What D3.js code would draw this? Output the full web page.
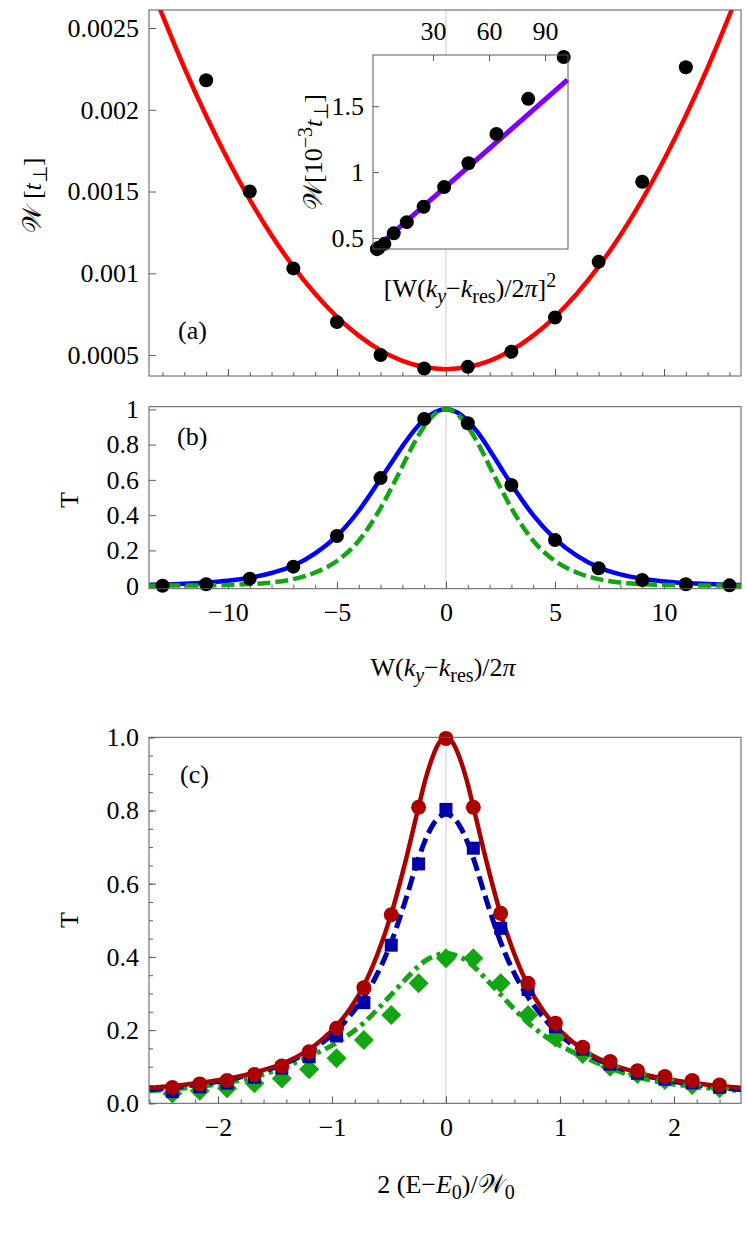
<!DOCTYPE html>
<html><head><meta charset="utf-8">
<script src="https://cdn.jsdelivr.net/npm/d3@7"></script>
<style>
body{margin:0;background:#fff}
text{font-family:"Liberation Serif","Times New Roman",serif;fill:#000}
</style></head><body>
<svg id="c" width="747" height="1233"></svg>
<script>
// ---------- Panel (a): width W vs W(ky-kres)/2pi ----------
const aX = [-11,-9,-7,-5,-3,-1,1,3,5,7,9,11];
const aW = [0.00218,0.0015,0.00103,0.000702,0.0005,0.000418,0.000428,0.00052,0.00073,0.00107,0.00156,0.00226];
const aFitX = [-14,-13,-12,-11,-10,-9,-8,-7,-6,-5,-4,-3,-2,-1,0,1,2,3,4,5,6,7,8,9,10,11,12,13,14];
const aFitW = [0.002923,0.002577,0.002257,0.001963,0.001694,0.001451,0.001233,0.001041,0.000875,0.000734,0.000619,0.000529,0.000465,0.000427,0.000414,0.000427,0.000465,0.000529,0.000619,0.000734,0.000875,0.001041,0.001233,0.001451,0.001694,0.001963,0.002257,0.002577,0.002923];
const aYTicks = [0.0005,0.001,0.0015,0.002,0.0025];
const aYTickLabels = ["0.0005","0.001","0.0015","0.002","0.0025"];

// inset
const inX = [0,1,4,9,16,25,36,49,64,81,100];
const inW = [0.415,0.425,0.455,0.535,0.62,0.737,0.886,1.067,1.289,1.556,1.874];
const inFitX = [0,102];
const inFitW = [0.43,1.70];
const inXTicks = [30,60,90];
const inYTicks = [0.5,1,1.5];
const inYTickLabels = ["0.5","1","1.5"];

// ---------- Panel (b): T vs W(ky-kres)/2pi ----------
const bX = [-13,-11,-9,-7,-5,-3,-1,1,3,5,7,9,11,13];
const bT = [0.0,0.008,0.04,0.108,0.282,0.61,0.945,0.921,0.571,0.259,0.099,0.032,0.008,0.002];
const bBlueX = [-13.6,-13,-12,-11,-10,-9,-8,-7,-6,-5,-4,-3,-2.5,-2,-1.5,-1,-0.5,0,0.5,1,1.5,2,2.5,3,4,5,6,7,8,9,10,11,12,13,13.6];
const bBlueT = [0.006,0.007,0.011,0.018,0.028,0.045,0.072,0.113,0.183,0.282,0.425,0.605,0.697,0.79,0.874,0.942,0.985,1.0,0.984,0.935,0.862,0.77,0.672,0.575,0.4,0.265,0.17,0.104,0.064,0.039,0.024,0.015,0.009,0.005,0.004];
const bGreenX = [-13.6,-13,-12,-11,-10,-9,-8,-7,-6,-5,-4,-3,-2.5,-2,-1.5,-1,-0.5,0,0.5,1,1.5,2,2.5,3,4,5,6,7,8,9,10,11,12,13,13.6];
const bGreenT = [0.0003,0.0005,0.001,0.002,0.004,0.009,0.018,0.037,0.075,0.14,0.255,0.44,0.555,0.677,0.8,0.903,0.975,1.0,0.975,0.903,0.8,0.677,0.555,0.44,0.255,0.14,0.075,0.037,0.018,0.009,0.004,0.002,0.001,0.0005,0.0003];
const abXMinor = [-13,-12,-11,-10,-9,-8,-7,-6,-5,-4,-3,-2,-1,0,1,2,3,4,5,6,7,8,9,10,11,12,13];
const abXMajor = [-10,-5,0,5,10];
const bYTicks = [0,0.2,0.4,0.6,0.8,1];
const bYTickLabels = ["0","0.2","0.4","0.6","0.8","1"];

// ---------- Panel (c): T vs 2(E-E0)/W0 ----------
const cX = [-2.4,-2.16,-1.92,-1.68,-1.44,-1.2,-0.96,-0.72,-0.48,-0.24,0,0.24,0.48,0.72,0.96,1.2,1.44,1.68,1.92,2.16,2.4];
const cRed = [0.043,0.053,0.062,0.079,0.102,0.141,0.205,0.316,0.515,0.809,0.997,0.809,0.519,0.328,0.219,0.153,0.114,0.089,0.073,0.062,0.05];
const cBlue = [0.032,0.045,0.055,0.071,0.096,0.127,0.184,0.275,0.432,0.654,0.803,0.697,0.478,0.311,0.209,0.148,0.107,0.082,0.066,0.056,0.044];
const cGreen = [0.027,0.034,0.041,0.055,0.068,0.093,0.123,0.173,0.241,0.328,0.396,0.396,0.328,0.241,0.18,0.135,0.1,0.08,0.064,0.05,0.041];
const cFitX = [-2.6,-2.4,-2.16,-1.92,-1.68,-1.44,-1.2,-1.08,-0.96,-0.84,-0.72,-0.6,-0.48,-0.36,-0.24,-0.18,-0.12,-0.06,0,0.06,0.12,0.18,0.24,0.36,0.48,0.6,0.72,0.84,0.96,1.08,1.2,1.44,1.68,1.92,2.16,2.4,2.6];
const cFitRed = [0.042,0.047,0.056,0.067,0.084,0.108,0.147,0.176,0.212,0.259,0.322,0.408,0.517,0.655,0.81,0.885,0.944,0.985,1,0.985,0.944,0.885,0.81,0.655,0.517,0.408,0.322,0.259,0.212,0.176,0.147,0.108,0.084,0.067,0.056,0.047,0.042];
const cFitBlue = [0.037,0.043,0.052,0.064,0.081,0.105,0.142,0.167,0.198,0.24,0.29,0.355,0.44,0.55,0.67,0.72,0.758,0.782,0.79,0.782,0.758,0.72,0.67,0.55,0.44,0.355,0.29,0.24,0.198,0.167,0.142,0.105,0.081,0.064,0.052,0.043,0.037];
const cFitGreen = [0.034,0.039,0.046,0.056,0.072,0.096,0.128,0.145,0.165,0.19,0.22,0.257,0.297,0.337,0.375,0.39,0.4,0.407,0.41,0.407,0.4,0.39,0.375,0.337,0.297,0.257,0.22,0.19,0.165,0.145,0.128,0.096,0.072,0.056,0.046,0.039,0.034];
const cXMinor = [-2.6,-2.4,-2.2,-2,-1.8,-1.6,-1.4,-1.2,-1,-0.8,-0.6,-0.4,-0.2,0,0.2,0.4,0.6,0.8,1,1.2,1.4,1.6,1.8,2,2.2,2.4];
const cXMajor = [-2,-1,0,1,2];
const cXTickLabels = ["−2","−1","0","1","2"];
const cYMinor = [0,0.05,0.1,0.15,0.2,0.25,0.3,0.35,0.4,0.45,0.5,0.55,0.6,0.65,0.7,0.75,0.8,0.85,0.9,0.95,1];
const cYMajor = [0,0.2,0.4,0.6,0.8,1];
const cYTickLabels = ["0.0","0.2","0.4","0.6","0.8","1.0"];

// ================= drawing =================
const svg = d3.select("#c");
const FS = 26;
const FRAME = "#5a5a5a";
const GRID = "#cccccc";
const SERIF = '"Liberation Serif","Times New Roman",serif';

function rich(sel, parts){
  let off = 0;
  parts.forEach(p=>{
    const ts = sel.append("tspan").text(p.t);
    let target = 0;
    if(p.sub) target = 6;
    if(p.sup) target = -10;
    if(target!==off){ ts.attr("dy", target-off); off = target; }
    if(p.sub||p.sup) ts.attr("font-size", 20);
    if(p.i) ts.attr("font-style","italic");
  });
}

function panel(x, y, clipId){
  const [x0,x1] = x.range(); const [y1,y0] = y.range();
  svg.append("clipPath").attr("id",clipId).append("rect")
    .attr("x",x0).attr("y",y0).attr("width",x1-x0).attr("height",y1-y0);
  return {x0,x1,y0,y1};
}

function styleAxis(g){
  g.attr("font-family",SERIF).attr("font-size",FS);
  g.select(".domain").remove();
  g.selectAll(".tick line").attr("stroke",FRAME);
  g.selectAll("text").attr("font-size",FS).attr("fill","#000").attr("font-family",SERIF);
}

function drawFrame(f){
  svg.append("rect").attr("x",f.x0).attr("y",f.y0).attr("width",f.x1-f.x0).attr("height",f.y1-f.y0)
    .attr("fill","none").attr("stroke",FRAME).attr("stroke-width",1);
}

function line(x,y,xs,ys,curve){
  return d3.line().x(d=>x(d[0])).y(d=>y(d[1])).curve(curve||d3.curveMonotoneX)(xs.map((v,i)=>[v,ys[i]]));
}

// ----- Panel (a)
const xa = d3.scaleLinear().domain([-13.62,13.53]).range([149,741]);
const ya = d3.scaleLinear().domain([0.000372,0.00261]).range([376,10]);
const fa = panel(xa, ya, "clipA");
svg.append("line").attr("x1",xa(0)).attr("x2",xa(0)).attr("y1",fa.y0).attr("y2",fa.y1).attr("stroke",GRID);
svg.append("g").attr("transform",`translate(0,${fa.y1})`)
  .call(d3.axisBottom(xa).tickValues(abXMinor).tickSize(-4).tickFormat("")).call(styleAxis);
svg.append("g").attr("transform",`translate(0,${fa.y1})`)
  .call(d3.axisBottom(xa).tickValues(abXMajor).tickSize(-7).tickFormat("")).call(styleAxis);
svg.append("g").attr("transform",`translate(${fa.x0},0)`)
  .call(d3.axisLeft(ya).tickValues(aYTicks).tickSize(-7).tickPadding(10).tickFormat((d,i)=>aYTickLabels[i])).call(styleAxis);
svg.append("path").attr("d",line(xa,ya,aFitX,aFitW)).attr("clip-path","url(#clipA)")
  .attr("fill","none").attr("stroke","#ff0000").attr("stroke-width",4.5);
svg.append("g").selectAll("circle").data(aX).join("circle")
  .attr("cx",d=>xa(d)).attr("cy",(d,i)=>ya(aW[i])).attr("r",7).attr("fill","#000");
drawFrame(fa);
svg.append("text").attr("x",178).attr("y",339).attr("font-size",FS).text("(a)");
{
  const t = svg.append("text").attr("transform","translate(41,195) rotate(-90)").attr("text-anchor","middle").attr("font-size",FS);
  rich(t,[{t:"𝒲 ["},{t:"t",i:true},{t:"⊥",sub:true},{t:"]"}]);
}

// ----- Inset
const xi = d3.scaleLinear().domain([-2.1,102.3]).range([373,568]);
const yi = d3.scaleLinear().domain([0.416,1.889]).range([249,55]);
const fi = panel(xi, yi, "clipI");
svg.append("rect").attr("x",fi.x0).attr("y",fi.y0).attr("width",fi.x1-fi.x0).attr("height",fi.y1-fi.y0).attr("fill","#fff");
svg.append("g").attr("transform",`translate(0,${fi.y0})`)
  .call(d3.axisTop(xi).tickValues(inXTicks).tickSize(-6).tickPadding(15).tickFormat(d3.format("d"))).call(styleAxis);
svg.append("g").attr("transform",`translate(${fi.x0},0)`)
  .call(d3.axisLeft(yi).tickValues(inYTicks).tickSize(-6).tickPadding(9).tickFormat((d,i)=>inYTickLabels[i])).call(styleAxis);
svg.append("path").attr("d",line(xi,yi,inFitX,inFitW,d3.curveLinear))
  .attr("fill","none").attr("stroke","#7f00ff").attr("stroke-width",5);
svg.append("g").selectAll("circle").data(inX).join("circle")
  .attr("cx",d=>xi(d)).attr("cy",(d,i)=>yi(inW[i])).attr("r",7).attr("fill","#000");
drawFrame(fi);
{
  const t = svg.append("text").attr("transform","translate(322,152) rotate(-90)").attr("text-anchor","middle").attr("font-size",FS);
  rich(t,[{t:"𝒲[10"},{t:"−3",sup:true},{t:"t",i:true},{t:"⊥",sub:true},{t:"]"}]);
  const u = svg.append("text").attr("x",470).attr("y",297).attr("text-anchor","middle").attr("font-size",FS);
  rich(u,[{t:"[W("},{t:"k",i:true},{t:"y",i:true,sub:true},{t:"−"},{t:"k",i:true},{t:"res",sub:true},{t:")/2"},{t:"π",i:true},{t:"]"},{t:"2",sup:true}]);
}

// ----- Panel (b)
const xb = d3.scaleLinear().domain([-13.62,13.53]).range([149,741]);
const yb = d3.scaleLinear().domain([-0.017,1.015]).range([588.7,406.7]);
const fb = panel(xb, yb, "clipB");
svg.append("line").attr("x1",xb(0)).attr("x2",xb(0)).attr("y1",fb.y0).attr("y2",fb.y1).attr("stroke",GRID);
svg.append("g").attr("transform",`translate(0,${fb.y1})`)
  .call(d3.axisBottom(xb).tickValues(abXMinor).tickSize(-4).tickFormat("")).call(styleAxis);
svg.append("g").attr("transform",`translate(0,${fb.y1})`)
  .call(d3.axisBottom(xb).tickValues(abXMajor).tickSize(-7).tickPadding(14).tickFormat(d3.format("d"))).call(styleAxis);
svg.append("g").attr("transform",`translate(${fb.x0},0)`)
  .call(d3.axisLeft(yb).tickValues(bYTicks).tickSize(-7).tickPadding(10).tickFormat((d,i)=>bYTickLabels[i])).call(styleAxis);
svg.append("path").attr("d",line(xb,yb,bBlueX,bBlueT)).attr("clip-path","url(#clipB)")
  .attr("fill","none").attr("stroke","#0000ff").attr("stroke-width",4.5);
svg.append("path").attr("d",line(xb,yb,bGreenX,bGreenT)).attr("clip-path","url(#clipB)")
  .attr("fill","none").attr("stroke","#12a612").attr("stroke-width",4.5).attr("stroke-dasharray","13,5");
svg.append("g").selectAll("circle").data(bX).join("circle")
  .attr("cx",d=>xb(d)).attr("cy",(d,i)=>yb(bT[i])).attr("r",7).attr("fill","#000");
drawFrame(fb);
svg.append("text").attr("x",177).attr("y",445).attr("font-size",FS).text("(b)");
svg.append("text").attr("transform","translate(78,500) rotate(-90)").attr("text-anchor","middle").attr("font-size",FS).text("T");
{
  const t = svg.append("text").attr("x",443).attr("y",676).attr("text-anchor","middle").attr("font-size",FS);
  rich(t,[{t:"W("},{t:"k",i:true},{t:"y",i:true,sub:true},{t:"−"},{t:"k",i:true},{t:"res",sub:true},{t:")/2"},{t:"π",i:true}]);
}

// ----- Panel (c)
const xc = d3.scaleLinear().domain([-2.605,2.588]).range([149,741]);
const yc = d3.scaleLinear().domain([0,1]).range([1103.3,737.3]);
const fc = panel(xc, yc, "clipC");
svg.append("line").attr("x1",xc(0)).attr("x2",xc(0)).attr("y1",fc.y0).attr("y2",fc.y1).attr("stroke",GRID);
svg.append("g").attr("transform",`translate(0,${fc.y1})`)
  .call(d3.axisBottom(xc).tickValues(cXMinor).tickSize(-4).tickFormat("")).call(styleAxis);
svg.append("g").attr("transform",`translate(0,${fc.y1})`)
  .call(d3.axisBottom(xc).tickValues(cXMajor).tickSize(-7).tickPadding(14).tickFormat((d,i)=>cXTickLabels[i])).call(styleAxis);
svg.append("g").attr("transform",`translate(${fc.x0},0)`)
  .call(d3.axisLeft(yc).tickValues(cYMinor).tickSize(-4).tickFormat("")).call(styleAxis);
svg.append("g").attr("transform",`translate(${fc.x0},0)`)
  .call(d3.axisLeft(yc).tickValues(cYMajor).tickSize(-7).tickPadding(10).tickFormat((d,i)=>cYTickLabels[i])).call(styleAxis);
svg.append("path").attr("d",line(xc,yc,cFitX,cFitGreen)).attr("clip-path","url(#clipC)")
  .attr("fill","none").attr("stroke","#12a612").attr("stroke-width",5).attr("stroke-dasharray","12,5,4,5");
svg.append("path").attr("d",line(xc,yc,cFitX,cFitBlue)).attr("clip-path","url(#clipC)")
  .attr("fill","none").attr("stroke","#0000aa").attr("stroke-width",5).attr("stroke-dasharray","14,6");
svg.append("path").attr("d",line(xc,yc,cFitX,cFitRed)).attr("clip-path","url(#clipC)")
  .attr("fill","none").attr("stroke","#aa0000").attr("stroke-width",4.5);
svg.append("g").selectAll("path").data(cX).join("path")
  .attr("transform",(d,i)=>`translate(${xc(d)},${yc(cGreen[i])})`)
  .attr("d","M0,-10L10,0L0,10L-10,0Z").attr("fill","#12a612");
svg.append("g").selectAll("rect").data(cX).join("rect")
  .attr("x",d=>xc(d)-6.5).attr("y",(d,i)=>yc(cBlue[i])-6.5).attr("width",13).attr("height",13).attr("fill","#0000aa");
svg.append("g").selectAll("circle").data(cX).join("circle")
  .attr("cx",d=>xc(d)).attr("cy",(d,i)=>yc(cRed[i])).attr("r",7.5).attr("fill","#aa0000");
drawFrame(fc);
svg.append("text").attr("x",180).attr("y",783).attr("font-size",FS).text("(c)");
svg.append("text").attr("transform","translate(78,920) rotate(-90)").attr("text-anchor","middle").attr("font-size",FS).text("T");
{
  const t = svg.append("text").attr("x",446).attr("y",1193).attr("text-anchor","middle").attr("font-size",FS);
  rich(t,[{t:"2 (E−"},{t:"E",i:true},{t:"0",sub:true},{t:")/𝒲"},{t:"0",sub:true}]);
}
</script>
</body></html>
